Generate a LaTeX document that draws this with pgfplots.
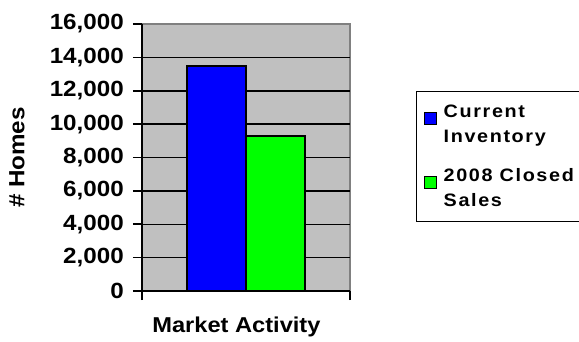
\documentclass[border=0pt]{standalone}
\usepackage{fontspec}
\setmainfont{Liberation Sans}[FakeStretch=1.1]
\newfontfamily\legendfont{Liberation Sans}[FakeStretch=1.1,LetterSpace=9]
\usepackage{pgfplots}
\pgfplotsset{compat=1.18}
\definecolor{plotgray}{HTML}{C0C0C0}
\definecolor{framegray}{HTML}{808080}
\pgfplotsset{
  swatch/.style={legend image code/.code={%
    \fill[#1] (0pt,0pt) rectangle (12pt,12pt);
    \draw[black, line width=1pt] (0pt,0pt) rectangle (12pt,12pt);}},
}
\begin{document}
\begin{tikzpicture}[x=1pt,y=1pt]
\useasboundingbox (0,0) rectangle (579,341);
\begin{axis}[
  at={(142pt,50pt)}, anchor=south west,
  scale only axis, width=208pt, height=267pt,
  xmin=0, xmax=1, ymin=0, ymax=16000,
  axis x line*=bottom, axis y line*=left,
  axis line style={black, line width=1.6pt},
  axis background/.style={fill=plotgray, draw=framegray, line width=1.6pt},
  xtick={0,1}, xticklabels={},
  ytick={0,2000,...,14000},
  extra y ticks={16000}, extra y tick style={grid=none},
  ymajorgrids, grid style={black, line width=1.5pt},
  tick align=outside, major tick length=9pt,
  tick style={black, line width=1.6pt},
  scaled y ticks=false,
  yticklabel={\pgfmathprintnumber[fixed,1000 sep={,},assume math mode=true]{\tick}},
  yticklabel style={font=\bfseries\fontsize{22}{26}\selectfont, inner sep=2pt, xshift=-7pt},
  ylabel={\# Homes},
  every axis y label/.style={at={(axis description cs:-0.601,0.5)}, rotate=90, anchor=center,
    font=\bfseries\fontsize{22}{26}\selectfont},
  xlabel={Market Activity},
  every axis x label/.style={at={(axis description cs:0.454,-0.135)}, anchor=center,
    font=\bfseries\fontsize{21.5}{26}\selectfont},
  legend style={at={(axis description cs:1.317,0.749)}, anchor=north west,
    draw=black, line width=1.2pt, inner xsep=7pt, inner ysep=11pt,
    font=\legendfont\bfseries\fontsize{18}{25}\selectfont,
    cells={align=left, anchor=west}, row sep=21pt,
    /tikz/every odd column/.style={column sep=5pt}},
]
% the two bars: current inventory and closed sales in 2008
\addplot[ybar, bar width=0.284, bar shift=0pt, fill=blue, draw=black, line width=1.6pt, forget plot]
  coordinates {(0.358,13500)};
\addplot[ybar, bar width=0.284, bar shift=0pt, fill=green, draw=black, line width=1.6pt, forget plot]
  coordinates {(0.642,9300)};
\addlegendimage{swatch=blue}
\addlegendentry{Current\\Inventory}
\addlegendimage{swatch=green}
\addlegendentry{2008 Closed\\Sales}
\end{axis}
\end{tikzpicture}
\end{document}
